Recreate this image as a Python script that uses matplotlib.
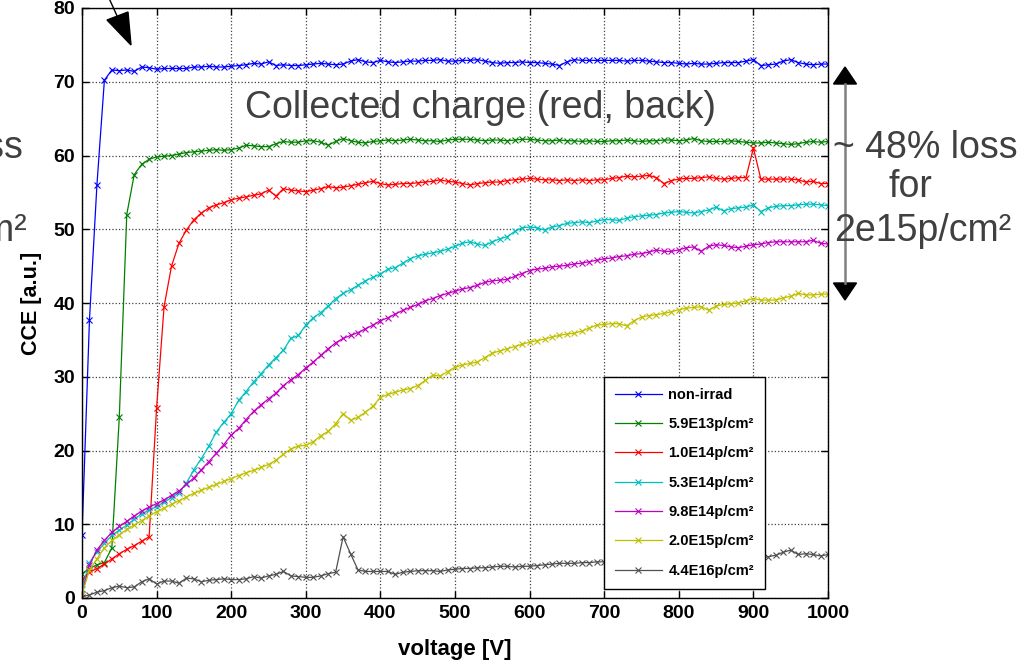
import matplotlib
matplotlib.use("Agg")
import matplotlib.pyplot as plt
import numpy as np
from matplotlib.lines import Line2D
from matplotlib.patches import Polygon

plt.rcParams['font.family'] = ['Liberation Sans', 'DejaVu Sans']

# bias voltage in V, one reading every 10 V
voltage = np.arange(0, 1001, 10)

non_irrad = [8.5, 37.7, 56.0, 70.2, 71.6, 71.5, 71.6, 71.4, 72.0, 71.9,
             71.7, 71.8, 71.8, 71.8, 71.8, 72.0, 72.0, 72.1, 72.0, 72.0,
             72.1, 72.2, 72.3, 72.5, 72.4, 72.7, 72.2, 72.3, 72.2, 72.2,
             72.3, 72.4, 72.5, 72.4, 72.3, 72.4, 72.8, 73.0, 72.7, 72.6,
             72.9, 72.7, 72.6, 72.7, 72.8, 72.8, 72.9, 72.9, 73.0, 72.8,
             72.8, 72.9, 72.9, 73.0, 72.8, 72.6, 72.5, 72.6, 72.6, 72.7,
             72.6, 72.6, 72.5, 72.4, 72.2, 72.7, 73.0, 72.9, 72.9, 72.9,
             72.9, 72.9, 72.9, 72.8, 72.9, 72.9, 72.8, 72.7, 72.6, 72.6,
             72.5, 72.4, 72.5, 72.4, 72.4, 72.5, 72.6, 72.6, 72.6, 72.8,
             73.0, 72.2, 72.3, 72.4, 72.8, 73.0, 72.6, 72.4, 72.3, 72.4,
             72.4]

p59e13 = [3.3, 4.0, 4.5, 4.8, 6.8, 24.5, 52.0, 57.4, 58.8, 59.5,
          59.8, 59.9, 60.0, 60.2, 60.4, 60.5, 60.6, 60.7, 60.8, 60.7,
          60.8, 61.0, 61.4, 61.3, 61.2, 61.2, 61.6, 61.9, 61.8, 61.8,
          62.0, 62.0, 61.8, 61.4, 61.9, 62.3, 62.0, 61.8, 61.7, 61.9,
          62.0, 62.1, 62.0, 62.1, 62.2, 62.1, 62.0, 62.0, 61.9, 62.1,
          62.2, 62.2, 62.2, 62.1, 62.0, 62.1, 62.1, 62.0, 62.1, 62.2,
          62.2, 62.1, 62.0, 62.0, 62.1, 62.0, 62.0, 61.9, 62.0, 61.9,
          61.9, 62.0, 62.0, 62.1, 62.0, 61.9, 62.0, 62.0, 62.1, 62.1,
          62.0, 62.1, 62.3, 62.0, 61.9, 61.9, 61.9, 62.0, 61.9, 61.8,
          61.7, 61.7, 61.8, 61.7, 61.6, 61.5, 61.6, 61.8, 61.9, 61.8,
          61.9]

p10e14 = [2.5, 3.5, 4.0, 4.6, 5.3, 6.0, 6.6, 7.1, 7.7, 8.3,
          25.8, 39.5, 45.0, 48.1, 49.9, 51.3, 52.2, 52.9, 53.3, 53.6,
          54.0, 54.2, 54.4, 54.6, 54.8, 55.3, 54.5, 55.5, 55.3, 55.2,
          55.1, 55.3, 55.5, 55.8, 55.6, 55.7, 55.9, 56.1, 56.3, 56.5,
          56.2, 56.0, 56.1, 56.2, 56.2, 56.3, 56.4, 56.5, 56.7, 56.5,
          56.4, 56.2, 56.0, 56.2, 56.3, 56.4, 56.4, 56.6, 56.7, 56.8,
          56.9, 56.8, 56.7, 56.7, 56.6, 56.7, 56.6, 56.7, 56.6, 56.7,
          56.7, 56.9, 57.0, 57.2, 57.1, 57.2, 57.3, 57.0, 56.2, 56.6,
          56.8, 56.9, 56.9, 57.0, 57.1, 56.9, 56.8, 56.9, 57.0, 57.0,
          61.0, 56.8, 56.8, 56.8, 56.8, 56.8, 56.7, 56.4, 56.5, 56.2,
          56.2]

p53e14 = [1.2, 4.8, 6.3, 7.4, 8.5, 9.2, 9.9, 10.7, 11.4, 11.9,
          12.4, 13.0, 13.6, 14.3, 15.6, 17.4, 18.9, 20.6, 22.5, 23.8,
          25.0, 26.8, 28.0, 29.3, 30.4, 31.6, 32.6, 33.6, 35.2, 35.6,
          37.0, 38.0, 38.7, 39.6, 40.6, 41.3, 41.8, 42.4, 43.0, 43.5,
          43.9, 44.6, 44.8, 45.4, 46.0, 46.4, 46.6, 46.8, 47.0, 47.3,
          47.7, 48.1, 48.3, 48.0, 47.8, 48.3, 48.7, 49.0, 49.7, 50.2,
          50.3, 50.2, 49.9, 50.3, 50.5, 50.8, 50.9, 51.0, 50.9, 51.1,
          51.3, 51.3, 51.2, 51.5, 51.7, 51.8, 51.9, 52.0, 52.2, 52.3,
          52.4, 52.3, 52.2, 52.4, 52.6, 53.0, 52.5, 52.8, 52.9, 53.0,
          53.3, 52.4, 52.9, 53.1, 53.2, 53.2, 53.3, 53.4, 53.4, 53.3,
          53.2]

p98e14 = [0.5, 4.5, 6.5, 7.8, 8.9, 9.7, 10.4, 11.1, 11.8, 12.3,
          12.8, 13.3, 13.9, 14.5, 15.4, 16.3, 17.4, 18.5, 19.6, 20.8,
          22.1, 23.0, 24.2, 25.3, 26.2, 27.0, 27.8, 28.8, 29.6, 30.3,
          31.2, 32.0, 32.9, 33.8, 34.6, 35.2, 35.6, 36.0, 36.5, 37.0,
          37.6, 38.0, 38.5, 39.0, 39.4, 39.8, 40.3, 40.6, 41.0, 41.3,
          41.6, 41.9, 42.1, 42.4, 42.8, 43.0, 43.1, 43.2, 43.6, 44.0,
          44.4, 44.6, 44.7, 44.9, 45.0, 45.1, 45.3, 45.4, 45.6, 45.8,
          46.0, 46.1, 46.3, 46.4, 46.6, 46.7, 46.9, 47.2, 47.0, 47.0,
          47.2, 47.5, 47.6, 47.0, 47.7, 47.9, 47.8, 47.6, 47.5, 47.7,
          47.9, 48.0, 48.2, 48.3, 48.3, 48.3, 48.3, 48.3, 48.5, 48.1,
          48.0]

p20e15 = [0.5, 3.8, 5.3, 6.8, 7.8, 8.6, 9.3, 9.9, 10.5, 11.1,
          11.7, 12.2, 12.7, 13.2, 13.7, 14.2, 14.6, 15.0, 15.4, 15.8,
          16.2, 16.6, 17.0, 17.3, 17.7, 18.1, 18.7, 19.5, 20.2, 20.6,
          20.7, 21.2, 22.0, 22.6, 23.6, 25.0, 24.1, 24.5, 25.2, 26.0,
          27.2, 27.6, 27.9, 28.2, 28.4, 28.8, 29.5, 30.2, 30.1, 30.7,
          31.3, 31.6, 31.8, 32.0, 32.6, 33.2, 33.5, 33.8, 34.1, 34.4,
          34.7, 34.9, 35.1, 35.4, 35.6, 35.8, 35.9, 36.2, 36.6, 37.0,
          37.1, 37.2, 37.2, 36.9, 37.6, 38.1, 38.3, 38.4, 38.6, 38.8,
          39.1, 39.3, 39.4, 39.5, 39.0, 39.6, 39.8, 39.9, 40.0, 40.3,
          40.6, 40.4, 40.4, 40.4, 40.7, 40.9, 41.3, 41.1, 41.1, 41.2,
          41.2]

p44e16 = [0.2, 0.4, 0.8, 1.0, 1.4, 1.6, 1.4, 1.5, 2.2, 2.6,
          1.9, 2.3, 2.3, 2.0, 2.7, 2.6, 2.2, 2.4, 2.5, 2.6,
          2.5, 2.5, 2.6, 2.9, 2.7, 3.0, 3.2, 3.6, 3.0, 2.9,
          2.8, 2.8, 3.0, 3.3, 3.5, 8.3, 6.0, 3.8, 3.6, 3.6,
          3.6, 3.6, 3.2, 3.5, 3.6, 3.7, 3.7, 3.7, 3.6, 3.8,
          3.9, 4.0, 4.0, 4.1, 4.1, 4.2, 4.3, 4.3, 4.2, 4.3,
          4.3, 4.4, 4.5, 4.6, 4.7, 4.7, 4.7, 4.8, 4.8, 4.9,
          4.9, 4.9, 5.0, 5.0, 5.0, 5.1, 5.1, 5.1, 5.2, 5.2,
          5.2, 5.3, 5.3, 5.3, 5.4, 5.4, 5.4, 5.5, 5.5, 5.4,
          5.4, 5.4, 5.6, 5.8, 6.2, 6.5, 5.9, 6.0, 5.9, 5.7,
          5.9]

series = [non_irrad, p59e13, p10e14, p53e14, p98e14, p20e15, p44e16]
labels = ['non-irrad', '5.9E13p/cm²', '1.0E14p/cm²', '5.3E14p/cm²',
          '9.8E14p/cm²', '2.0E15p/cm²', '4.4E16p/cm²']
colors = ['#0000ff', '#008000', '#ff0000', '#00bfbf', '#bf00bf', '#bfbf00', '#505050']

W, H = 1029, 668
fig = plt.figure(figsize=(W / 100, H / 100), dpi=100)
ax = fig.add_axes([82 / W, 1 - 598 / H, 746 / W, 590 / H])

for y, lab, c in zip(series, labels, colors):
    ax.plot(voltage, y, color=c, lw=0.9, marker='x', ms=5, mew=0.8, label=lab)

ax.set_xlim(0, 1000)
ax.set_ylim(0, 80)
ax.set_xticks(np.arange(0, 1001, 100))
ax.set_yticks(np.arange(0, 81, 10))
ax.grid(True, color='0.25', linestyle=':', linewidth=0.9)
ax.tick_params(direction='in', length=5, width=1, top=True, right=True,
               labelsize=14, pad=5)
for lab in ax.get_xticklabels() + ax.get_yticklabels():
    lab.set_fontweight('bold')
for sp in ax.spines.values():
    sp.set_linewidth(1)
ax.set_xlabel('voltage [V]', fontsize=16, fontweight='bold', labelpad=12)
ax.set_ylabel('CCE [a.u.]', fontsize=15.5, fontweight='bold', labelpad=8)

leg = ax.legend(loc='lower left', bbox_to_anchor=(0.70, 0.016), numpoints=1,
                prop={'weight': 'bold', 'size': 10.5}, handlelength=3.2,
                labelspacing=1.05, borderpad=0.75, handletextpad=0.45,
                borderaxespad=0, fancybox=False, framealpha=1, edgecolor='black')
leg.get_frame().set_linewidth(1)

# slide annotations
gray = '#404040'
ax.text(218, 66.4, 'Collected charge (red, back)', fontsize=27, color=gray, va='center')


def fx(px):
    return px / W


def fy(py):
    return 1 - py / H


fig.text(fx(833), fy(148), '~ 48% loss', fontsize=27, color=gray, va='center')
fig.text(fx(910), fy(187), 'for', fontsize=27, color=gray, va='center', ha='center')
fig.text(fx(834), fy(231), '2e15p/cm²', fontsize=27, color=gray, va='center')
fig.text(fx(23), fy(148), 'loss', fontsize=27, color=gray, va='center', ha='right')
fig.text(fx(27), fy(231), 'p/cm²', fontsize=27, color=gray, va='center', ha='right')

# double arrow on the right
fig.add_artist(Line2D([fx(845), fx(845)], [fy(84), fy(283)], color='#808080', lw=1.8))
fig.add_artist(Polygon([(fx(833.5), fy(84)), (fx(856.5), fy(84)), (fx(845), fy(67))],
                       closed=True, color='black'))
fig.add_artist(Polygon([(fx(833.5), fy(283)), (fx(856.5), fy(283)), (fx(845), fy(300))],
                       closed=True, color='black'))

# arrow at the top left
fig.add_artist(Line2D([fx(103), fx(118)], [fy(-15), fy(18)], color='black', lw=1))
fig.add_artist(Polygon([(fx(107), fy(20)), (fx(128), fy(12)), (fx(131), fy(45))],
                       closed=True, color='black'))

fig.savefig('out.png', dpi=100)
